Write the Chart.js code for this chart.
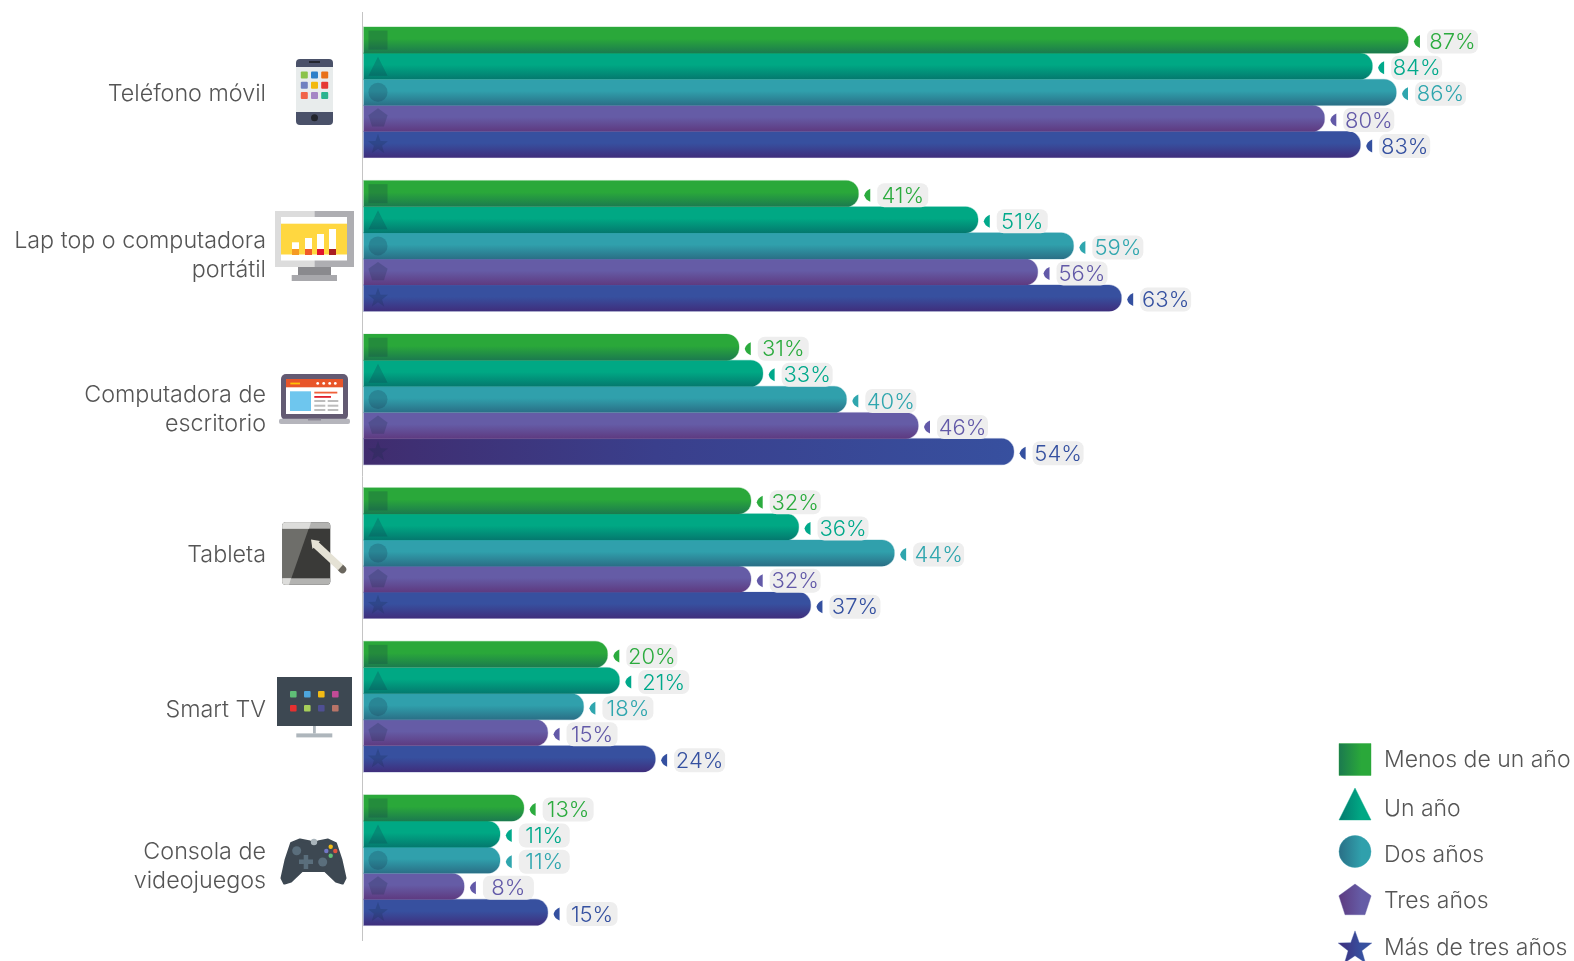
<!DOCTYPE html>
<html lang="es">
<head>
<meta charset="utf-8">
<title>Dispositivos por antigüedad</title>
<style>
  html, body { margin: 0; padding: 0; background: #fff; }
  #wrap { position: relative; width: 1574px; height: 961px; }
</style>
<script src="https://cdn.jsdelivr.net/npm/chart.js@4/dist/chart.umd.min.js"></script>
</head>
<body>
<div id="wrap"><canvas id="myChart" width="1574" height="961"></canvas></div>
<script>
var categorias = ['Teléfono móvil', 'Lap top o computadora|portátil', 'Computadora de|escritorio', 'Tableta', 'Smart TV', 'Consola de|videojuegos'];
var menosDeUnAno = [87, 41, 31, 32, 20, 13];
var unAno = [84, 51, 33, 36, 21, 11];
var dosAnos = [86, 59, 40, 44, 18, 11];
var tresAnos = [80, 56, 46, 32, 15, 8];
var masDeTresAnos = [83, 63, 54, 37, 24, 15];
var nombresSeries = ['Menos de un año', 'Un año', 'Dos años', 'Tres años', 'Más de tres años'];

var colorArriba = ['#2aa83a', '#00a884', '#30a0ac', '#655ca6', '#37509f'];
var colorAbajo = ['#1b7a4f', '#04796e', '#2a6f86', '#5e3a80', '#3f2e7c'];
var colorTexto = ['#2bab3e', '#00a98b', '#2fa6ae', '#6259a8', '#3450a0'];
var formas = ['square', 'triangle', 'circle', 'pentagon', 'star'];

var FUENTE = 'Inter';
var AJUSTE_ETIQUETA = [2, 10, 10, 2, 3, 6];

var EJE_MIN = -0.527;
var EJE_MAX = 100.81;

// vertical shading of one bar, worked out from where the scale puts it
function degradadoBarra(c, i) {
  var chart = c.chart;
  var y = chart.scales.y;
  if (!y || c.dataIndex === undefined) return colorArriba[i];
  var paso = (y.height / categorias.length) * 0.85 / 5;
  var centro = y.getPixelForValue(c.dataIndex) + (i - 2) * paso;
  if (!isFinite(centro) || !isFinite(paso)) return colorArriba[i];
  var g;
  // the longest bar of the desktop group fades sideways instead
  if (i === 4 && c.dataIndex === 2) {
    g = chart.ctx.createLinearGradient(chart.scales.x.left, 0, chart.scales.x.getPixelForValue(masDeTresAnos[2]), 0);
    g.addColorStop(0, '#402c6e');
    g.addColorStop(0.45, '#3a3f8c');
    g.addColorStop(1, '#37509f');
    return g;
  }
  g = chart.ctx.createLinearGradient(0, centro - paso / 2, 0, centro + paso / 2);
  g.addColorStop(0, colorArriba[i]);
  g.addColorStop(0.45, colorArriba[i]);
  g.addColorStop(1, colorAbajo[i]);
  return g;
}

function serie(nombre, datos, i) {
  return {
    label: nombre,
    data: datos,
    base: EJE_MIN,
    backgroundColor: function (c) { return degradadoBarra(c, i); },
    borderColor: colorArriba[i] + '55',
    borderWidth: 0.7,
    borderSkipped: false,
    borderRadius: { topLeft: 0, bottomLeft: 0, topRight: 13, bottomRight: 13 },
    categoryPercentage: 0.85,
    barPercentage: 1.06
  };
}

function trazarForma(ctx, forma, x, y, r) {
  var k, a, rad;
  ctx.beginPath();
  if (forma === 'square') {
    ctx.rect(x - r, y - r, r * 2, r * 2);
  } else if (forma === 'triangle') {
    ctx.moveTo(x, y - r);
    ctx.lineTo(x + r, y + r);
    ctx.lineTo(x - r, y + r);
    ctx.closePath();
  } else if (forma === 'circle') {
    ctx.arc(x, y, r, 0, Math.PI * 2);
  } else if (forma === 'pentagon') {
    for (k = 0; k < 5; k++) {
      a = -Math.PI / 2 + k * Math.PI * 2 / 5;
      ctx.lineTo(x + r * 1.06 * Math.cos(a), y + r * 1.06 * Math.sin(a));
    }
    ctx.closePath();
  } else {
    for (k = 0; k < 10; k++) {
      a = -Math.PI / 2 + k * Math.PI / 5;
      rad = k % 2 ? r * 0.45 : r * 1.1;
      ctx.lineTo(x + rad * Math.cos(a), y + rad * Math.sin(a));
    }
    ctx.closePath();
  }
}

function rect(ctx, color, x0, y0, x1, y1) {
  ctx.fillStyle = color;
  ctx.fillRect(x0, y0, x1 - x0, y1 - y0);
}

function punto(ctx, color, x, y, r) {
  ctx.fillStyle = color;
  ctx.beginPath();
  ctx.arc(x, y, r, 0, Math.PI * 2);
  ctx.fill();
}

function caja(ctx, color, x0, y0, x1, y1, r) {
  ctx.fillStyle = color;
  ctx.beginPath();
  ctx.roundRect(x0, y0, x1 - x0, y1 - y0, r);
  ctx.fill();
}

function iconoTelefono(ctx) {
  caja(ctx, '#4a5169', 296, 59, 333, 125, 4);
  rect(ctx, '#e8ecec', 296, 67, 333, 112);
  rect(ctx, '#23262e', 309, 61, 317, 63);
  rect(ctx, '#23262e', 317, 61, 320, 63);
  punto(ctx, '#22252c', 314.5, 117.8, 3.5);
  var cols = ['#8bc34a', '#2f80c8', '#e8711a', '#7080c0', '#f2b90f', '#e53935', '#f0654a', '#a585c5', '#2bb38f'];
  cols.forEach(function (c, n) {
    var cx = 304.3 + (n % 3) * 10.2;
    var cy = 75 + Math.floor(n / 3) * 10.2;
    caja(ctx, c, cx - 3.5, cy - 3.5, cx + 3.5, cy + 3.5, 1);
  });
}

function iconoMonitor(ctx) {
  rect(ctx, '#dcdcdc', 275, 211, 314.5, 267);
  rect(ctx, '#aeaeb2', 314.5, 211, 354, 267);
  rect(ctx, '#ffffff', 281, 217, 347, 260.5);
  rect(ctx, '#ffd740', 281, 223.7, 347, 254.5);
  var xs = [292, 305, 317, 329];
  var tops = [242.3, 238, 234, 229];
  var cols = ['#f59a23', '#f05a28', '#e0142d', '#a81e22'];
  xs.forEach(function (x, n) {
    rect(ctx, '#ffffff', x, tops[n], x + 7, 249);
    rect(ctx, cols[n], x, 249, x + 7, 255);
  });
  rect(ctx, '#8a8a8e', 298, 267, 331, 275);
  rect(ctx, '#a8a8ac', 291.7, 275, 337, 281);
}

function iconoPortatil(ctx) {
  caja(ctx, '#635a72', 281, 374, 348, 420, 5);
  rect(ctx, '#ffffff', 286, 379, 343, 414);
  rect(ctx, '#e8552a', 286, 379, 343, 387.3);
  rect(ctx, '#ffc107', 290.3, 382.6, 300, 384.4);
  [317.7, 323.7, 329.7, 335.3].forEach(function (x) { punto(ctx, '#ffffff', x, 383.4, 1.4); });
  rect(ctx, '#6ec6ee', 290, 391.3, 311, 411);
  rect(ctx, '#f0603a', 314.3, 391.7, 337.3, 393.5);
  rect(ctx, '#e0202d', 314.3, 396, 331, 397.8);
  [400, 404.7, 409].forEach(function (y) {
    rect(ctx, '#bdbdbd', 314.3, y, 325.3, y + 2);
    rect(ctx, '#bdbdbd', 327.7, y, 338.3, y + 2);
  });
  caja(ctx, '#b5b5bc', 279, 418.7, 350, 424, 2);
  rect(ctx, '#8f8c98', 308, 418.7, 321, 420.5);
}

function iconoTableta(ctx) {
  ctx.save();
  ctx.beginPath();
  ctx.roundRect(282.3, 522.3, 48, 62.4, 3.5);
  ctx.clip();
  rect(ctx, '#3a3a38', 282, 522, 331, 585);
  ctx.fillStyle = '#6e6e6a';
  ctx.beginPath();
  ctx.moveTo(282, 522);
  ctx.lineTo(311, 522);
  ctx.lineTo(289, 585);
  ctx.lineTo(282, 585);
  ctx.fill();
  rect(ctx, '#b3b3b1', 282, 522, 331, 528.7);
  rect(ctx, '#b3b3b1', 282, 578.3, 331, 585);
  ctx.fillStyle = '#dddddb';
  ctx.beginPath();
  ctx.moveTo(282, 522);
  ctx.lineTo(311, 522);
  ctx.lineTo(309, 528.7);
  ctx.lineTo(282, 528.7);
  ctx.moveTo(282, 578.3);
  ctx.lineTo(291, 578.3);
  ctx.lineTo(289, 585);
  ctx.lineTo(282, 585);
  ctx.fill();
  ctx.restore();
  ctx.strokeStyle = '#6a665e';
  ctx.lineWidth = 7.5;
  ctx.lineCap = 'round';
  ctx.beginPath();
  ctx.moveTo(341, 568);
  ctx.lineTo(342.5, 569.5);
  ctx.stroke();
  ctx.lineCap = 'butt';
  ctx.strokeStyle = '#e5e2d5';
  ctx.beginPath();
  ctx.moveTo(314.5, 543.5);
  ctx.lineTo(340.5, 567.5);
  ctx.stroke();
  ctx.fillStyle = '#e5e2d5';
  ctx.beginPath();
  ctx.moveTo(311, 539.5);
  ctx.lineTo(320, 541);
  ctx.lineTo(312.5, 549);
  ctx.fill();
}

function iconoTele(ctx) {
  rect(ctx, '#3d4852', 277, 677, 352, 726);
  var cols = ['#5fbf77', '#4da6de', '#f2bb15', '#c24b97', '#e53030', '#a6ce5a', '#4f4f93', '#b87468'];
  cols.forEach(function (c, n) {
    var cx = 293.3 + (n % 4) * 14;
    var cy = 694.3 + Math.floor(n / 4) * 14;
    caja(ctx, c, cx - 3.3, cy - 3.3, cx + 3.3, cy + 3.3, 1);
  });
  rect(ctx, '#aeb6bc', 313, 726, 315.8, 733.5);
  rect(ctx, '#aeb6bc', 296.3, 733.4, 332.3, 737.4);
}

function iconoMando(ctx) {
  var pts = [[300, 840], [310, 842], [314, 842.5], [318, 842], [328, 840], [335.5, 843.5], [341, 860], [345, 878], [342.5, 883], [336, 881], [325, 870.5], [302, 870.5], [291, 881], [284.5, 883], [282, 878], [286, 860], [291.5, 843.5]];
  ctx.fillStyle = '#3d4852';
  ctx.strokeStyle = '#3d4852';
  ctx.lineWidth = 3;
  ctx.lineJoin = 'round';
  ctx.beginPath();
  pts.forEach(function (p) { ctx.lineTo(p[0], p[1]); });
  ctx.closePath();
  ctx.fill();
  ctx.stroke();
  punto(ctx, '#a9b4bb', 314, 842, 3.2);
  punto(ctx, '#5a6e7c', 296.7, 850.7, 4.5);
  punto(ctx, '#5a6e7c', 322.7, 862, 4.5);
  rect(ctx, '#5a6e7c', 299, 859.5, 313, 864);
  rect(ctx, '#5a6e7c', 303.7, 855, 308.2, 869);
  punto(ctx, '#f2bb15', 330.7, 846.7, 2.2);
  punto(ctx, '#7277c5', 326.3, 851, 2.2);
  punto(ctx, '#e0533e', 335.3, 851, 2.2);
  punto(ctx, '#5fbf77', 330.7, 855.7, 2.2);
}

var iconos = [iconoTelefono, iconoMonitor, iconoPortatil, iconoTableta, iconoTele, iconoMando];

// axis line, device names and their icons
var pluginEjes = {
  id: 'ejes',
  afterDraw: function (chart) {
    var ctx = chart.ctx;
    var y = chart.scales.y;
    ctx.save();
    ctx.font = '300 23.3px ' + FUENTE;
    ctx.fillStyle = '#555';
    ctx.textAlign = 'right';
    ctx.textBaseline = 'middle';
    categorias.forEach(function (nombre, i) {
      var lineas = nombre.split('|');
      var cy = y.getPixelForValue(i) + AJUSTE_ETIQUETA[i];
      lineas.forEach(function (t, n) {
        ctx.fillText(t, 266, cy + (n - (lineas.length - 1) / 2) * 29);
      });
    });
    ctx.restore();
    iconos.forEach(function (f) { ctx.save(); f(ctx); ctx.restore(); });
  },
  beforeDatasetsDraw: function (chart) {
    var ctx = chart.ctx;
    ctx.save();
    ctx.strokeStyle = '#c4c4c4';
    ctx.lineWidth = 1;
    ctx.beginPath();
    ctx.moveTo(362.5, 12);
    ctx.lineTo(362.5, 941);
    ctx.stroke();
    ctx.restore();
  }
};

// small shape at the start of each bar plus the arrow and value tag at its end
var pluginEtiquetas = {
  id: 'etiquetas',
  afterDatasetsDraw: function (chart) {
    var ctx = chart.ctx;
    ctx.save();
    chart.data.datasets.forEach(function (ds, i) {
      chart.getDatasetMeta(i).data.forEach(function (el, j) {
        ctx.fillStyle = 'rgba(20, 40, 70, 0.22)';
        trazarForma(ctx, formas[i], 378, el.y, 9.5);
        ctx.fill();
        var cy = el.y + 1.5;
        var xa = el.x + 5;
        ctx.fillStyle = colorTexto[i];
        ctx.beginPath();
        ctx.moveTo(xa, cy);
        ctx.quadraticCurveTo(xa + 1, cy - 4.5, xa + 6, cy - 6.5);
        ctx.lineTo(xa + 6, cy + 6.5);
        ctx.quadraticCurveTo(xa + 1, cy + 4.5, xa, cy);
        ctx.closePath();
        ctx.fill();
        var xp = el.x + 18;
        caja(ctx, '#eeeeee', xp, cy - 12, xp + 51, cy + 12, 7);
        ctx.font = '300 22px ' + FUENTE;
        ctx.textAlign = 'center';
        ctx.textBaseline = 'middle';
        ctx.fillStyle = colorTexto[i];
        ctx.fillText(ds.data[j] + '%', xp + 25.5, cy + 1);
      });
    });
    ctx.restore();
  }
};

var pluginLeyenda = {
  id: 'leyenda',
  afterDraw: function (chart) {
    var ctx = chart.ctx;
    var filasY = [759.5, 804, 851.5, 901, 948.5];
    var textoY = [760, 809, 855, 901, 948];
    ctx.save();
    chart.data.datasets.forEach(function (ds, i) {
      var g = ctx.createLinearGradient(1339, 0, 1371, 0);
      g.addColorStop(0, colorAbajo[i]);
      g.addColorStop(0.7, colorArriba[i]);
      ctx.fillStyle = g;
      ctx.strokeStyle = colorArriba[i] + '66';
      ctx.lineWidth = 1;
      trazarForma(ctx, formas[i], 1355, filasY[i], 16);
      ctx.fill();
      ctx.stroke();
      ctx.font = '300 23px ' + FUENTE;
      ctx.textAlign = 'left';
      ctx.textBaseline = 'middle';
      ctx.fillStyle = '#555';
      ctx.fillText(ds.label, 1384, textoY[i]);
    });
    ctx.restore();
  }
};

var ctx = document.getElementById('myChart').getContext('2d');

var chart = new Chart(ctx, {
  type: 'bar',
  data: {
    labels: categorias,
    datasets: [
      serie(nombresSeries[0], menosDeUnAno, 0),
      serie(nombresSeries[1], unAno, 1),
      serie(nombresSeries[2], dosAnos, 2),
      serie(nombresSeries[3], tresAnos, 3),
      serie(nombresSeries[4], masDeTresAnos, 4)
    ]
  },
  options: {
    indexAxis: 'y',
    responsive: false,
    animation: false,
    layout: { padding: { left: 363, right: 0, top: 15.5, bottom: 24 } },
    scales: {
      x: { display: false, min: EJE_MIN, max: EJE_MAX },
      y: { display: false }
    },
    plugins: {
      legend: { display: false },
      tooltip: { enabled: false }
    }
  },
  plugins: [pluginEjes, pluginEtiquetas, pluginLeyenda]
});
</script>
</body>
</html>
